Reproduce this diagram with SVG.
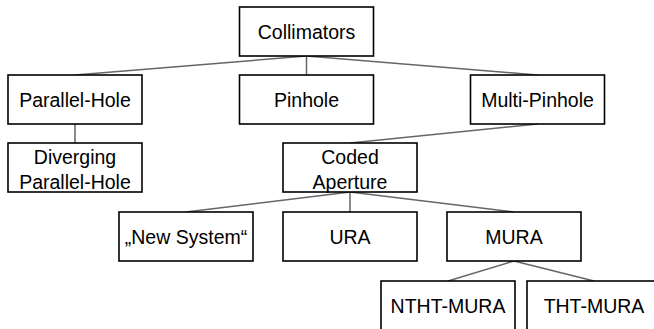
<svg xmlns="http://www.w3.org/2000/svg" width="654" height="329" viewBox="0 0 654 329">
<style>
.box{fill:#fff;stroke:#000;stroke-width:1.6}
.lbl{font-family:"Liberation Sans","DejaVu Sans",sans-serif;font-size:19.5px;fill:#000;text-anchor:middle}
.edge{stroke:#666;stroke-width:1.5;fill:none}
</style>
<rect width="654" height="329" fill="#fff"/>
<g id="connectors">
<line class="edge" x1="306.5" y1="56" x2="75" y2="75"/>
<line class="edge" x1="306.5" y1="56" x2="306.5" y2="75"/>
<line class="edge" x1="306.5" y1="56" x2="537.5" y2="75"/>
<line class="edge" x1="75" y1="124" x2="75" y2="143"/>
<line class="edge" x1="537.5" y1="124" x2="350" y2="143"/>
<line class="edge" x1="350" y1="192" x2="186" y2="212"/>
<line class="edge" x1="350" y1="192" x2="350" y2="212"/>
<line class="edge" x1="350" y1="192" x2="514" y2="212"/>
<line class="edge" x1="514" y1="261" x2="448" y2="281"/>
<line class="edge" x1="514" y1="261" x2="594" y2="281"/>
</g>
<g id="collimators"><rect class="box" x="239.5" y="7" width="134" height="49"/><text class="lbl" x="306.5" y="39">Collimators</text></g>
<g id="parallel-hole"><rect class="box" x="8" y="75" width="134" height="49"/><text class="lbl" x="75" y="107">Parallel-Hole</text></g>
<g id="pinhole"><rect class="box" x="239.5" y="75" width="134" height="49"/><text class="lbl" x="306.5" y="107">Pinhole</text></g>
<g id="multi-pinhole"><rect class="box" x="470.5" y="75" width="134" height="49"/><text class="lbl" x="537.5" y="107">Multi-Pinhole</text></g>
<g id="diverging"><rect class="box" x="8" y="143" width="134" height="49"/><text class="lbl" x="75" y="164">Diverging</text><text class="lbl" x="75" y="188.5">Parallel-Hole</text></g>
<g id="coded-aperture"><rect class="box" x="283" y="143" width="134" height="49"/><text class="lbl" x="350" y="164">Coded</text><text class="lbl" x="350" y="188.5">Aperture</text></g>
<g id="new-system"><rect class="box" x="119" y="212" width="134" height="49"/><text class="lbl" x="186" y="244">„New System“</text></g>
<g id="ura"><rect class="box" x="283" y="212" width="134" height="49"/><text class="lbl" x="350" y="244">URA</text></g>
<g id="mura"><rect class="box" x="447" y="212" width="134" height="49"/><text class="lbl" x="514" y="244">MURA</text></g>
<g id="ntht-mura"><rect class="box" x="381" y="281" width="134" height="52"/><text class="lbl" x="448" y="313">NTHT-MURA</text></g>
<g id="tht-mura"><rect class="box" x="527" y="281" width="134" height="52"/><text class="lbl" x="594" y="313">THT-MURA</text></g>
</svg>
